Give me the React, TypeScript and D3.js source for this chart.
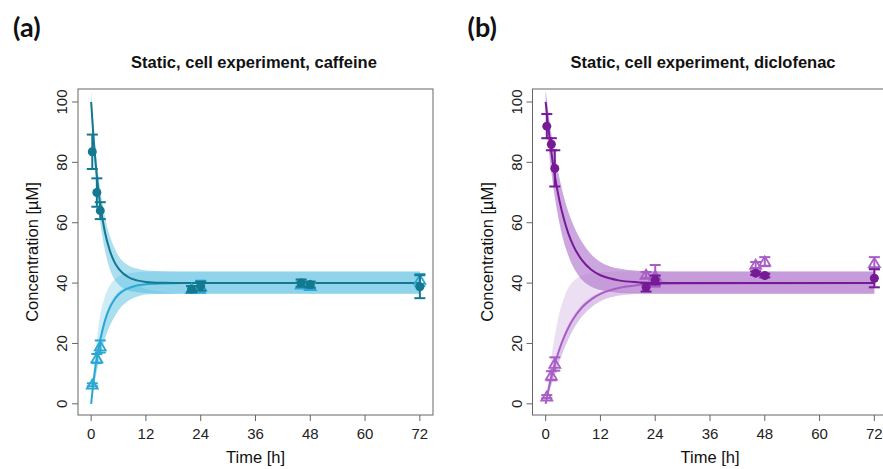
import React from "react";
import * as d3 from "d3";

// ---------- Data: (a) caffeine ----------
const caffeineCurveTimes = [0, 0.5, 1, 1.5, 2, 3, 4, 5, 6, 8, 10, 12, 16, 20, 24, 72];
const caffeineDarkFit = [100, 88.6, 79.4, 72, 65.9, 57, 51.2, 47.3, 44.8, 42.1, 40.9, 40.4, 40.1, 40, 40, 40];
const caffeineLightFit = [0, 7.1, 12.9, 17.7, 21.3, 27.4, 31.6, 34.3, 36.2, 38.2, 39.2, 39.6, 39.9, 40, 40, 40];
const caffeineDarkUpper = [104, 93, 84, 77, 71, 62, 56, 52, 49, 46, 44.8, 44.2, 43.9, 43.8, 43.8, 43.8];
const caffeineDarkLower = [96, 84, 74, 66.5, 60, 51, 45, 41.5, 39.5, 37.6, 37, 36.7, 36.5, 36.5, 36.5, 36.5];
const caffeineLightUpper = [0, 10, 18, 24.5, 29.5, 35.5, 39, 41, 42.2, 43.2, 43.6, 43.8, 43.8, 43.8, 43.8, 43.8];
const caffeineLightInnerUpper = [0, 7.8, 13.8, 18.8, 22.5, 28.6, 32.8, 35.4, 37.2, 38.8, 39, 38, 37, 36.5, 36.5, 36.5];
const caffeineLightLower = [0, 5, 9, 12.5, 16, 21.5, 25.5, 28.5, 31, 34, 35.5, 36.2, 36.5, 36.5, 36.5, 36.5];

const caffeineObsTimes = [0.25, 1.25, 2, 22, 24, 46, 48, 72];
const caffeineCircleMean = [83.5, 70, 64, 38, 39, 40, 39.5, 38.8];
const caffeineCircleSd = [5.7, 4.7, 2.8, 1, 1.5, 1.2, 1, 3.8];
const caffeineTriMean = [6.3, 15, 19, 38, 38.8, 39.5, 39, 41];
const caffeineTriSd = [0.5, 1.5, 2, 1, 2, 1, 1, 2];

// ---------- Data: (b) diclofenac ----------
const diclofenacCurveTimes = [0, 0.5, 1, 1.5, 2, 3, 4, 5, 6, 8, 10, 12, 14, 16, 20, 24, 30, 72];
const diclofenacDarkFit = [100, 92.7, 86.3, 80.6, 75.7, 67.5, 61.2, 56.3, 52.6, 47.5, 44.4, 42.6, 41.6, 40.9, 40.3, 40.1, 40, 40];
const diclofenacLightFit = [0, 3.8, 7.3, 10.4, 13.2, 18, 22, 25.3, 28, 32, 34.6, 36.4, 37.6, 38.4, 39.3, 39.7, 39.9, 40];
const diclofenacDarkUpper = [104, 98, 92, 87, 82.5, 75, 68.5, 63.5, 59.5, 53.5, 49.5, 47, 45.6, 44.8, 44.1, 43.9, 43.8, 43.8];
const diclofenacDarkLower = [96, 87.5, 80, 74, 68.5, 60, 53.5, 49, 45.5, 41, 38.8, 37.7, 37.1, 36.8, 36.6, 36.5, 36.5, 36.5];
const diclofenacLightUpper = [0, 6.5, 12.5, 18, 22.5, 30, 35, 38.5, 40.5, 42.5, 43.3, 43.6, 43.7, 43.8, 43.8, 43.8, 43.8, 43.8];
const diclofenacLightInnerUpper = [0, 4.3, 8, 11.2, 14, 19, 23, 26.3, 29, 33, 35.5, 37, 37.6, 37.4, 36.8, 36.5, 36.5, 36.5];
const diclofenacLightLower = [0, 2.5, 5, 7.5, 9.5, 14, 18, 21.5, 24.5, 29, 32, 34, 35.2, 35.9, 36.4, 36.5, 36.5, 36.5];

const diclofenacObsTimes = [0.25, 1.25, 2, 22, 24, 46, 48, 72];
const diclofenacCircleMean = [92, 86, 78, 38.6, 41, 43.3, 42.5, 41.6];
const diclofenacCircleSd = [4, 2, 6, 1.4, 1.5, 0.6, 0.6, 3];
const diclofenacTriMean = [2.4, 9.3, 13.2, 42.7, 42.4, 46, 47.1, 46.6];
const diclofenacTriSd = [0.5, 1.5, 2.2, 1, 3.6, 1, 1.5, 2];

const xTicks = [0, 12, 24, 36, 48, 60, 72];
const yTicks = [0, 20, 40, 60, 80, 100];

type PanelProps = {
  id: string;
  offsetX: number;
  label: string;
  title: string;
  titleX: number;
  curveTimes: number[];
  darkFit: number[];
  lightFit: number[];
  darkUpper: number[];
  darkLower: number[];
  lightUpper: number[];
  lightInnerUpper: number[];
  lightLower: number[];
  obsTimes: number[];
  circleMean: number[];
  circleSd: number[];
  triMean: number[];
  triSd: number[];
  darkColor: string;
  lightColor: string;
  darkBand: string;
  darkBandOpacity: number;
  lightBand: string;
  lightBandOpacity: number;
};

const FONT = "'Liberation Sans', Arial, sans-serif";
const AXIS_COLOR = "#666";

function Panel(p: PanelProps) {
  const left = 78 + p.offsetX;
  const right = left + 355;
  const top = 89;
  const bottom = 415;
  const x = d3.scaleLinear().domain([-2.88, 74.88]).range([left, right]);
  const y = d3.scaleLinear().domain([-3.7, 104.3]).range([bottom, top]);

  const line = (vals: number[]) =>
    d3
      .line<number>()
      .x((_, i) => x(p.curveTimes[i]))
      .y((v) => y(v))
      .curve(d3.curveMonotoneX)(vals) || "";
  const area = (lo: number[], hi: number[]) =>
    d3
      .area<number>()
      .x((_, i) => x(p.curveTimes[i]))
      .y0((_, i) => y(lo[i]))
      .y1((_, i) => y(hi[i]))
      .curve(d3.curveMonotoneX)(p.curveTimes) || "";

  const clipId = `clip-${p.id}`;
  const capW = 5.5;
  const triSize = 5.2;

  const errBar = (t: number, m: number, s: number, color: string, key: string) => (
    <g key={key} stroke={color} strokeWidth={2} fill="none">
      <line x1={x(t)} x2={x(t)} y1={y(m - s)} y2={y(m + s)} />
      <line x1={x(t) - capW} x2={x(t) + capW} y1={y(m - s)} y2={y(m - s)} />
      <line x1={x(t) - capW} x2={x(t) + capW} y1={y(m + s)} y2={y(m + s)} />
    </g>
  );

  return (
    <g>
      <text x={13 + p.offsetX} y={37} fontFamily="Lato, 'Open Sans', sans-serif" fontWeight="bold" fontSize={27} fill="#111">
        {p.label}
      </text>
      <text x={p.titleX} y={68} textAnchor="middle" fontFamily={FONT} fontWeight="bold" fontSize={16.5} fill="#111">
        {p.title}
      </text>
      <defs>
        <clipPath id={clipId}>
          <rect x={left} y={top} width={right - left} height={bottom - top} />
        </clipPath>
      </defs>
      <g clipPath={`url(#${clipId})`}>
        <path d={area(p.darkLower, p.darkUpper)} fill={p.darkBand} fillOpacity={p.darkBandOpacity} />
        <path d={area(p.lightLower, p.lightUpper)} fill={p.lightBand} fillOpacity={p.lightBandOpacity} />
        <path d={area(p.lightLower, p.lightInnerUpper)} fill={p.lightBand} fillOpacity={p.lightBandOpacity} />
        <path d={line(p.lightFit)} fill="none" stroke={p.lightColor} strokeWidth={2} />
        <path d={line(p.darkFit)} fill="none" stroke={p.darkColor} strokeWidth={2} />
      </g>
      {p.obsTimes.map((t, i) => errBar(t, p.triMean[i], p.triSd[i], p.lightColor, `te${i}`))}
      {p.obsTimes.map((t, i) => {
        const cx = x(t);
        const cy = y(p.triMean[i]);
        const pts = [
          [cx, cy - triSize],
          [cx - triSize * 1.05, cy + triSize * 0.75],
          [cx + triSize * 1.05, cy + triSize * 0.75],
        ];
        return (
          <polygon
            key={`tp${i}`}
            points={pts.map((q) => q.join(",")).join(" ")}
            fill="none"
            stroke={p.lightColor}
            strokeWidth={1.8}
          />
        );
      })}
      {p.obsTimes.map((t, i) => errBar(t, p.circleMean[i], p.circleSd[i], p.darkColor, `ce${i}`))}
      {p.obsTimes.map((t, i) => (
        <circle key={`cp${i}`} cx={x(t)} cy={y(p.circleMean[i])} r={4.5} fill={p.darkColor} />
      ))}
      <rect x={left} y={top} width={right - left} height={bottom - top} fill="none" stroke={AXIS_COLOR} strokeWidth={1} />
      {xTicks.map((t) => (
        <g key={`xt${t}`}>
          <line x1={x(t)} x2={x(t)} y1={bottom} y2={bottom + 6} stroke={AXIS_COLOR} />
          <text x={x(t)} y={bottom + 24} textAnchor="middle" fontFamily={FONT} fontSize={15} fill="#222">
            {t}
          </text>
        </g>
      ))}
      {yTicks.map((v) => (
        <g key={`yt${v}`}>
          <line x1={left - 6} x2={left} y1={y(v)} y2={y(v)} stroke={AXIS_COLOR} />
          <text
            transform={`translate(${left - 11},${y(v)}) rotate(-90)`}
            textAnchor="middle"
            fontFamily={FONT}
            fontSize={15}
            fill="#222"
          >
            {v}
          </text>
        </g>
      ))}
      <text x={(left + right) / 2} y={463} textAnchor="middle" fontFamily={FONT} fontSize={16.5} fill="#111">
        Time [h]
      </text>
      <text
        transform={`translate(${left - 40},${(top + bottom) / 2}) rotate(-90)`}
        textAnchor="middle"
        fontFamily={FONT}
        fontSize={16.5}
        fill="#111"
      >
        Concentration [µM]
      </text>
    </g>
  );
}

export default function App() {
  return (
    <svg width={883} height={469} style={{ position: "absolute", left: 0, top: 0, background: "#fff" }}>
      <rect width={883} height={469} fill="#fff" />
      <Panel
        id="a"
        offsetX={0}
        label="(a)"
        title="Static, cell experiment, caffeine"
        titleX={254}
        curveTimes={caffeineCurveTimes}
        darkFit={caffeineDarkFit}
        lightFit={caffeineLightFit}
        darkUpper={caffeineDarkUpper}
        darkLower={caffeineDarkLower}
        lightUpper={caffeineLightUpper}
        lightInnerUpper={caffeineLightInnerUpper}
        lightLower={caffeineLightLower}
        obsTimes={caffeineObsTimes}
        circleMean={caffeineCircleMean}
        circleSd={caffeineCircleSd}
        triMean={caffeineTriMean}
        triSd={caffeineTriSd}
        darkColor="#137890"
        lightColor="#2aa8d3"
        darkBand="#3ab2dc"
        darkBandOpacity={0.42}
        lightBand="#3ab2dc"
        lightBandOpacity={0.25}
      />
      <Panel
        id="b"
        offsetX={454.5}
        label="(b)"
        title="Static, cell experiment, diclofenac"
        titleX={703}
        curveTimes={diclofenacCurveTimes}
        darkFit={diclofenacDarkFit}
        lightFit={diclofenacLightFit}
        darkUpper={diclofenacDarkUpper}
        darkLower={diclofenacDarkLower}
        lightUpper={diclofenacLightUpper}
        lightInnerUpper={diclofenacLightInnerUpper}
        lightLower={diclofenacLightLower}
        obsTimes={diclofenacObsTimes}
        circleMean={diclofenacCircleMean}
        circleSd={diclofenacCircleSd}
        triMean={diclofenacTriMean}
        triSd={diclofenacTriSd}
        darkColor="#761a96"
        lightColor="#a95ec6"
        darkBand="#9445bb"
        darkBandOpacity={0.48}
        lightBand="#b47ad0"
        lightBandOpacity={0.25}
      />
    </svg>
  );
}
